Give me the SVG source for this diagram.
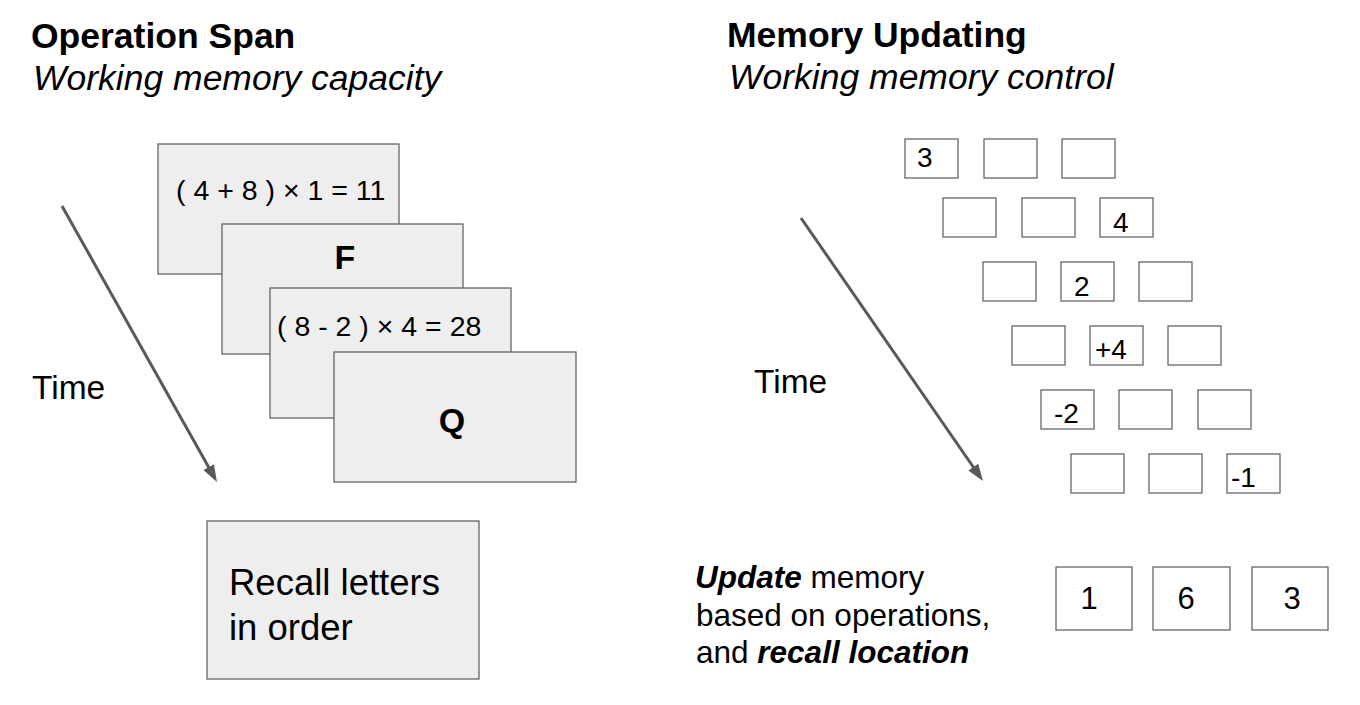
<svg xmlns="http://www.w3.org/2000/svg" width="1360" height="705" viewBox="0 0 1360 705">
<style>
text{font-family:"Liberation Sans",Arial,sans-serif;fill:#000}
.title{font-size:35.5px;font-weight:bold}
.sub{font-size:35.5px;font-style:italic}
.card{fill:#eeeeee;stroke:#666666;stroke-width:1.3}
.box{fill:#ffffff;stroke:#666666;stroke-width:1.3}
.eq{font-size:28.5px}
.let{font-size:34px;font-weight:bold}
.time{font-size:33.5px}
.dig{font-size:28px}
.big{font-size:31px}
.arr{stroke:#595959;stroke-width:3;fill:none}
</style>
<defs>
<marker id="ah" markerUnits="userSpaceOnUse" markerWidth="18" markerHeight="14" refX="3" refY="6" orient="auto">
<path d="M0,0 L17,6 L0,12 z" fill="#595959"/>
</marker>
</defs>

<g id="titles">
<text class="title" x="31" y="48">Operation Span</text>
<text class="sub" x="33" y="90">Working memory capacity</text>
<text class="title" x="727" y="47">Memory Updating</text>
<text class="sub" x="729" y="89">Working memory control</text>
</g>

<g id="connectors">
<line class="arr" x1="62" y1="206" x2="210.1" y2="469.8" marker-end="url(#ah)"/>
<line class="arr" x1="801" y1="218" x2="975" y2="469.5" marker-end="url(#ah)"/>
</g>

<g id="time-left"><text class="time" x="32" y="399">Time</text></g>
<g id="time-right"><text class="time" x="754" y="393">Time</text></g>

<g id="card1"><rect class="card" x="158" y="144" width="241" height="130"/><text class="eq" x="176" y="200">( 4 + 8 ) × 1 = 11</text></g>
<g id="card2"><rect class="card" x="222" y="224" width="241" height="130"/><text class="let" x="345" y="269" text-anchor="middle">F</text></g>
<g id="card3"><rect class="card" x="270" y="288" width="241" height="130"/><text class="eq" x="277" y="336">( 8 - 2 ) × 4 = 28</text></g>
<g id="card4"><rect class="card" x="334" y="352" width="242" height="130"/><text class="let" x="452" y="432" text-anchor="middle">Q</text></g>

<g id="recall"><rect class="card" x="207" y="521" width="272" height="158"/>
<text class="time" style="font-size:36.5px" x="229" y="595">Recall letters</text>
<text class="time" style="font-size:36.5px" x="229" y="640">in order</text></g>

<g id="row1">
<rect class="box" x="905" y="139" width="53" height="39"/><text class="dig" x="917" y="167">3</text>
<rect class="box" x="984" y="139" width="53" height="39"/>
<rect class="box" x="1062" y="139" width="53" height="39"/>
</g>
<g id="row2">
<rect class="box" x="943" y="198" width="53" height="39"/>
<rect class="box" x="1022" y="198" width="53" height="39"/>
<rect class="box" x="1100" y="198" width="53" height="39"/><text class="dig" x="1113" y="232">4</text>
</g>
<g id="row3">
<rect class="box" x="983" y="262" width="53" height="39"/>
<rect class="box" x="1061" y="262" width="53" height="39"/><text class="dig" x="1074" y="296">2</text>
<rect class="box" x="1139" y="262" width="53" height="39"/>
</g>
<g id="row4">
<rect class="box" x="1012" y="326" width="53" height="39"/>
<rect class="box" x="1090" y="326" width="53" height="39"/><text class="dig" x="1095" y="359">+4</text>
<rect class="box" x="1168" y="326" width="53" height="39"/>
</g>
<g id="row5">
<rect class="box" x="1041" y="390" width="53" height="39"/><text class="dig" x="1054" y="423">-2</text>
<rect class="box" x="1119" y="390" width="53" height="39"/>
<rect class="box" x="1198" y="390" width="53" height="39"/>
</g>
<g id="row6">
<rect class="box" x="1071" y="454" width="53" height="39"/>
<rect class="box" x="1149" y="454" width="53" height="39"/>
<rect class="box" x="1227" y="454" width="53" height="39"/><text class="dig" x="1231" y="487">-1</text>
</g>

<g id="update-text">
<text class="time" style="font-size:31.5px" x="695" y="588"><tspan font-weight="bold" font-style="italic">Update</tspan> memory</text>
<text class="time" style="font-size:31.5px" x="696" y="626">based on operations,</text>
<text class="time" style="font-size:31.5px" x="696" y="663">and <tspan font-weight="bold" font-style="italic">recall location</tspan></text>
</g>

<g id="result">
<rect class="box" x="1056" y="567" width="76" height="63"/><text class="big" x="1089" y="609" text-anchor="middle">1</text>
<rect class="box" x="1153" y="567" width="77" height="63"/><text class="big" x="1186" y="609" text-anchor="middle">6</text>
<rect class="box" x="1252" y="567" width="76" height="63"/><text class="big" x="1292" y="609" text-anchor="middle">3</text>
</g>
</svg>
